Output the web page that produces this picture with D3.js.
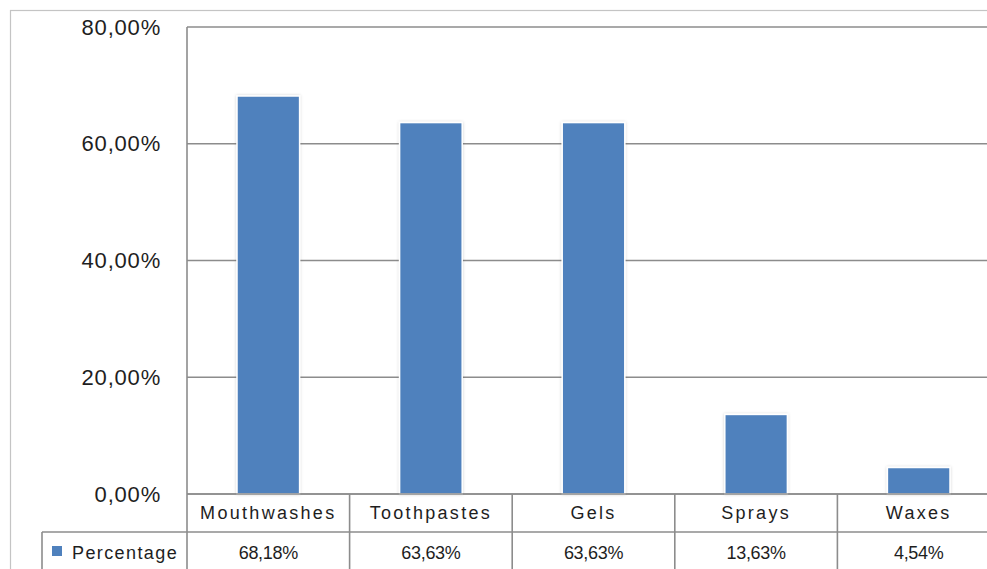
<!DOCTYPE html>
<html>
<head>
<meta charset="utf-8">
<script src="https://cdn.jsdelivr.net/npm/d3@7"></script>
<style>
  body { margin: 0; background: #fff; }
  svg { display: block; font-family: "Liberation Sans", Arial, sans-serif; }
</style>
</head>
<body>
<svg></svg>
<script>
let categories = ['Mouthwashes', 'Toothpastes', 'Gels', 'Sprays', 'Waxes']
let values = [68.18, 63.63, 63.63, 13.63, 4.54]
let valueLabels = ['68,18%', '63,63%', '63,63%', '13,63%', '4,54%']
let yTicks = [0, 20, 40, 60, 80]
let seriesName = 'Percentage'

let width = 987
let height = 569
let plotLeft = 187
let plotRight = 1000
let plotTop = 27
let plotBottom = 494
let rowHeight = 38
let legendLeft = 42

let gridColor = '#8c8c8c'
let textColor = '#1e1e1e'
let barColor = '#4f81bd'

let svg = d3.select('svg')
  .attr('width', width)
  .attr('height', height)

let defs = svg.append('defs')
let shadow = defs.append('filter')
  .attr('id', 'glow')
  .attr('x', '-20%').attr('y', '-20%')
  .attr('width', '140%').attr('height', '140%')
shadow.append('feDropShadow')
  .attr('dx', 0).attr('dy', 0)
  .attr('stdDeviation', 1.5)
  .attr('flood-color', '#000')
  .attr('flood-opacity', 0.18)

// outer chart border
svg.append('rect')
  .attr('x', 10.5).attr('y', 10.5)
  .attr('width', 1000).attr('height', 600)
  .attr('fill', 'none')
  .attr('stroke', '#c4c4c4')
  .attr('stroke-width', 1.2)

let xScale = d3.scaleBand()
  .domain(categories)
  .range([plotLeft, plotRight])
  .padding(0)

let yScale = d3.scaleLinear()
  .domain([0, 80])
  .range([plotBottom, plotTop])

// gridlines
svg.append('g')
  .selectAll('line')
  .data(yTicks)
  .enter()
  .append('line')
  .attr('x1', plotLeft)
  .attr('x2', width + 20)
  .attr('y1', (d) => yScale(d))
  .attr('y2', (d) => yScale(d))
  .attr('stroke', gridColor)
  .attr('stroke-width', 1.6)

// y axis
let yAxis = d3.axisLeft(yScale)
  .tickValues(yTicks)
  .tickSize(0)
  .tickPadding(26)
  .tickFormat((d) => d3.format('.2f')(d).replace('.', ',') + '%')

let yAxisG = svg.append('g')
  .attr('transform', 'translate(' + plotLeft + ', 0)')
  .call(yAxis)
yAxisG.select('.domain')
  .attr('stroke', gridColor)
  .attr('stroke-width', 1.6)
  .attr('d', 'M0,' + plotTop + 'V' + height)
yAxisG.selectAll('text')
  .attr('font-size', 22)
  .attr('fill', textColor)
  .attr('letter-spacing', 0.8)
  .attr('font-family', '"Liberation Sans", Arial, sans-serif')

// bars
let barFrac = 0.385
svg.append('g')
  .selectAll('rect')
  .data(values)
  .enter()
  .append('rect')
  .attr('x', (d, i) => xScale(categories[i]) + xScale.bandwidth() * (1 - barFrac) / 2)
  .attr('width', xScale.bandwidth() * barFrac)
  .attr('y', (d) => yScale(d))
  .attr('height', (d) => plotBottom - yScale(d))
  .attr('fill', barColor)
  .attr('stroke', '#fff')
  .attr('stroke-width', 1.5)
  .attr('filter', 'url(#glow)')

// zero line on top of bars
svg.append('line')
  .attr('x1', plotLeft).attr('x2', width + 20)
  .attr('y1', plotBottom).attr('y2', plotBottom)
  .attr('stroke', gridColor)
  .attr('stroke-width', 1.6)

// data table
let table = svg.append('g')
let row1 = plotBottom + rowHeight

table.append('line')
  .attr('x1', legendLeft).attr('x2', width + 20)
  .attr('y1', row1).attr('y2', row1)
  .attr('stroke', gridColor).attr('stroke-width', 1.6)

table.append('line')
  .attr('x1', legendLeft).attr('x2', legendLeft)
  .attr('y1', row1).attr('y2', height + 5)
  .attr('stroke', gridColor).attr('stroke-width', 1.6)

table.selectAll('line.div')
  .data(categories.slice(1))
  .enter()
  .append('line')
  .attr('class', 'div')
  .attr('x1', (d) => xScale(d)).attr('x2', (d) => xScale(d))
  .attr('y1', plotBottom).attr('y2', height + 5)
  .attr('stroke', gridColor).attr('stroke-width', 1.6)

table.selectAll('text.cat')
  .data(categories)
  .enter()
  .append('text')
  .attr('class', 'cat')
  .attr('x', (d) => xScale(d) + xScale.bandwidth() / 2)
  .attr('y', plotBottom + rowHeight / 2)
  .attr('dy', '0.35em')
  .attr('text-anchor', 'middle')
  .attr('font-size', 18)
  .attr('letter-spacing', 2.3)
  .attr('fill', textColor)
  .text((d) => d)

table.selectAll('text.val')
  .data(valueLabels)
  .enter()
  .append('text')
  .attr('class', 'val')
  .attr('x', (d, i) => xScale(categories[i]) + xScale.bandwidth() / 2)
  .attr('y', row1 + 21)
  .attr('dy', '0.35em')
  .attr('text-anchor', 'middle')
  .attr('font-size', 18)
  .attr('letter-spacing', -0.3)
  .attr('fill', textColor)
  .text((d) => d)

// legend key
table.append('rect')
  .attr('x', 52).attr('y', row1 + 14)
  .attr('width', 10).attr('height', 10)
  .attr('fill', barColor)

table.append('text')
  .attr('x', 72)
  .attr('y', row1 + 21)
  .attr('dy', '0.35em')
  .attr('font-size', 18)
  .attr('letter-spacing', 1.4)
  .attr('fill', textColor)
  .text(seriesName)
</script>
</body>
</html>
